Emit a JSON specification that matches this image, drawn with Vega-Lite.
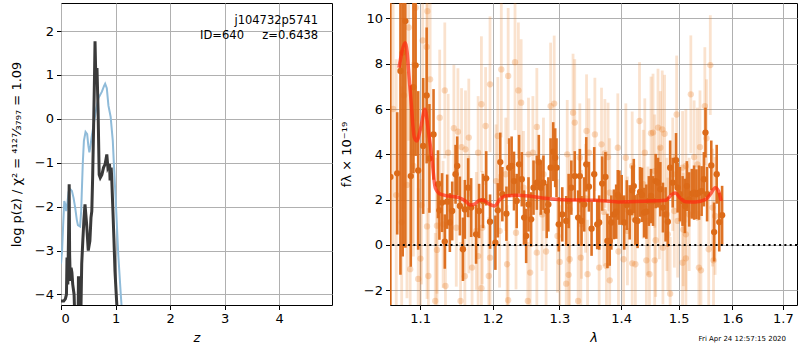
{
  "$schema": "https://vega.github.io/schema/vega-lite/v6.json",
  "padding": {"left": 9, "top": 2, "right": 0, "bottom": 0},
  "config": {
    "font": "DejaVu Sans",
    "view": {"stroke": "black", "strokeWidth": 1},
    "axis": {"domain": false, "grid": true, "gridColor": "#b0b0b0", "gridWidth": 1, "tickColor": "black", "tickSize": 4.5, "tickWidth": 1, "labelFontSize": 13, "labelColor": "black", "titleFontSize": 13, "titleFontWeight": "normal", "titleColor": "black", "labelPadding": 3, "labelFont": "DejaVu Sans", "titleFont": "DejaVu Sans"},
    "concat": {"spacing": 6}
  },
  "datasets": {
    "chi2": [
      {"z":0.0,"v":-3.3},{"z":0.02,"v":-3.0},{"z":0.04,"v":-2.4},{"z":0.06,"v":-1.87},{"z":0.08,"v":-1.95},{"z":0.095,"v":-2.1},{"z":0.115,"v":-1.95},{"z":0.14,"v":-1.66},{"z":0.17,"v":-1.6},{"z":0.2,"v":-1.64},{"z":0.23,"v":-1.8},{"z":0.26,"v":-2.02},{"z":0.29,"v":-2.3},{"z":0.31,"v":-2.42},{"z":0.35,"v":-2.45},{"z":0.37,"v":-2.1},{"z":0.38,"v":-1.72},{"z":0.4,"v":-1.0},{"z":0.42,"v":-0.5},{"z":0.45,"v":-0.3},{"z":0.48,"v":-0.35},{"z":0.5,"v":-0.6},{"z":0.52,"v":-0.76},{"z":0.54,"v":-0.62},{"z":0.56,"v":-0.43},{"z":0.6,"v":-0.12},{"z":0.65,"v":0.25},{"z":0.69,"v":0.48},{"z":0.75,"v":0.62},{"z":0.79,"v":0.75},{"z":0.81,"v":0.8},{"z":0.84,"v":0.7},{"z":0.87,"v":0.3},{"z":0.91,"v":0.05},{"z":0.95,"v":-0.5},{"z":0.97,"v":-1.03},{"z":1.01,"v":-2.02},{"z":1.05,"v":-3.09},{"z":1.1,"v":-4.07},{"z":1.13,"v":-4.6}
    ],
    "pz": [
      {"z":0.0,"v":-4.15},{"z":0.05,"v":-4.15},{"z":0.08,"v":-4.1},{"z":0.1,"v":-4.0},{"z":0.11,"v":-3.16},{"z":0.125,"v":-3.77},{"z":0.14,"v":-2.5},{"z":0.15,"v":-1.49},{"z":0.158,"v":-3.08},{"z":0.17,"v":-3.69},{"z":0.185,"v":-3.39},{"z":0.2,"v":-3.5},{"z":0.215,"v":-3.77},{"z":0.24,"v":-4.0},{"z":0.25,"v":-4.4},{"z":0.3,"v":-4.4},{"z":0.315,"v":-4.4},{"z":0.32,"v":-3.62},{"z":0.35,"v":-3.62},{"z":0.355,"v":-4.4},{"z":0.365,"v":-4.4},{"z":0.38,"v":-3.3},{"z":0.4,"v":-2.78},{"z":0.42,"v":-2.3},{"z":0.44,"v":-1.95},{"z":0.47,"v":-2.4},{"z":0.5,"v":-3.0},{"z":0.53,"v":-2.78},{"z":0.55,"v":-2.25},{"z":0.565,"v":-2.1},{"z":0.58,"v":-1.35},{"z":0.6,"v":-0.05},{"z":0.615,"v":1.0},{"z":0.624,"v":1.77},{"z":0.64,"v":0.86},{"z":0.66,"v":1.16},{"z":0.68,"v":0.2},{"z":0.7,"v":-1.27},{"z":0.72,"v":-1.34},{"z":0.75,"v":-1.27},{"z":0.78,"v":-1.11},{"z":0.81,"v":-1.03},{"z":0.84,"v":-0.81},{"z":0.86,"v":-1.11},{"z":0.89,"v":-1.03},{"z":0.9,"v":-1.4},{"z":0.92,"v":-1.11},{"z":0.93,"v":-1.34},{"z":0.95,"v":-2.02},{"z":0.97,"v":-2.71},{"z":0.99,"v":-3.47},{"z":1.02,"v":-4.15},{"z":1.04,"v":-4.6}
    ],
    "light": [
      {"l":1.065,"f":6.0,"e":6},{"l":1.069,"f":2.2,"e":6},{"l":1.076,"f":1.0,"e":6},{"l":1.079,"f":6.6,"e":5},{"l":1.085,"f":9.6,"e":5},{"l":1.0975,"f":-1.5,"e":4},
      {"l":1.0941,"f":10.47,"e":5},{"l":1.1097,"f":10.32,"e":4.5},{"l":1.1035,"f":9.03,"e":4},{"l":1.1087,"f":8.74,"e":4},{"l":1.1133,"f":7.31,"e":3.5},{"l":1.1331,"f":6.82,"e":3},{"l":1.1262,"f":5.62,"e":3},{"l":1.1455,"f":5.15,"e":2.8},{"l":1.1511,"f":5.0,"e":2.8},{"l":1.1561,"f":4.32,"e":2.6},{"l":1.1662,"f":4.74,"e":2.6},{"l":1.1616,"f":4.22,"e":2.6},{"l":1.1377,"f":4.07,"e":2.6},{"l":1.0903,"f":4.07,"e":4},{"l":1.0912,"f":3.49,"e":4},{"l":1.0828,"f":2.65,"e":5},{"l":1.1018,"f":1.76,"e":3.5},{"l":1.1092,"f":0.82,"e":3.2},{"l":1.1225,"f":0.85,"e":3},{"l":1.1308,"f":0.91,"e":2.8},{"l":1.1488,"f":0.76,"e":2.6},{"l":1.1225,"f":-0.22,"e":3},{"l":1.1005,"f":-0.6,"e":3.5},{"l":1.087,"f":-1.07,"e":4},{"l":1.111,"f":-1.37,"e":3},{"l":1.134,"f":-1.81,"e":2.8},{"l":1.1607,"f":-1.38,"e":2.6},{"l":1.1708,"f":-1.0,"e":2.6},{"l":1.1768,"f":0.62,"e":2.6},{"l":1.1662,"f":1.35,"e":2.6},{"l":1.1547,"f":-2.47,"e":2.6},{"l":1.1202,"f":-2.47,"e":3},
      {"l":1.1793,"f":4.07,"e":2.5},{"l":1.1963,"f":7.09,"e":3},{"l":1.184,"f":6.21,"e":3},{"l":1.19,"f":5.25,"e":2.6},{"l":1.2126,"f":7.75,"e":3},{"l":1.2226,"f":7.46,"e":3},{"l":1.2327,"f":8.07,"e":3},{"l":1.2377,"f":6.82,"e":3},{"l":1.2418,"f":6.28,"e":2.8},{"l":1.2865,"f":6.13,"e":2.8},{"l":1.292,"f":6.24,"e":3},{"l":1.2654,"f":5.21,"e":2.6},{"l":1.2075,"f":4.81,"e":2.6},{"l":1.2528,"f":4.0,"e":2.5},{"l":1.2594,"f":4.07,"e":2.5},{"l":1.2191,"f":3.12,"e":2.5},{"l":1.205,"f":2.82,"e":2.5},{"l":1.2453,"f":2.53,"e":2.5},{"l":1.2755,"f":3.12,"e":2.5},{"l":1.1853,"f":0.76,"e":2.5},{"l":1.1963,"f":-0.56,"e":2.5},{"l":1.1793,"f":-0.49,"e":2.5},{"l":1.1945,"f":-1.37,"e":2.6},{"l":1.2211,"f":-0.85,"e":2.6},{"l":1.2553,"f":-1.22,"e":2.6},{"l":1.2654,"f":-0.34,"e":2.5},{"l":1.2795,"f":-0.29,"e":2.5},{"l":1.3006,"f":-0.75,"e":2.5},{"l":1.184,"f":-1.91,"e":2.6},{"l":1.2226,"f":-2.44,"e":2.6},{"l":1.2518,"f":-2.47,"e":2.6},{"l":1.2101,"f":0.62,"e":2.5},{"l":1.2342,"f":0.54,"e":2.5},{"l":1.2735,"f":1.35,"e":2.5},{"l":1.2971,"f":0.4,"e":2.5},
      {"l":1.3216,"f":5.84,"e":2.6},{"l":1.3243,"f":5.4,"e":2.8},{"l":1.3432,"f":5.03,"e":2.5},{"l":1.3567,"f":4.88,"e":2.5},{"l":1.3675,"f":4.44,"e":2.5},{"l":1.373,"f":4.04,"e":2.4},{"l":1.3783,"f":3.88,"e":2.4},{"l":1.3945,"f":4.29,"e":2.4},{"l":1.408,"f":3.85,"e":2.4},{"l":1.4188,"f":3.49,"e":2.4},{"l":1.4313,"f":5.47,"e":2.6},{"l":1.4404,"f":4.07,"e":2.4},{"l":1.4512,"f":4.93,"e":2.5},{"l":1.3124,"f":4.0,"e":2.4},{"l":1.3324,"f":3.85,"e":2.4},{"l":1.347,"f":4.07,"e":2.4},{"l":1.3351,"f":0.91,"e":2.4},{"l":1.3162,"f":1.57,"e":2.4},{"l":1.3416,"f":2.06,"e":2.4},{"l":1.3713,"f":1.46,"e":2.4},{"l":1.381,"f":2.31,"e":2.4},{"l":1.4107,"f":0.62,"e":2.4},{"l":1.4377,"f":2.68,"e":2.4},{"l":1.4458,"f":1.06,"e":2.4},{"l":1.334,"f":-0.56,"e":2.4},{"l":1.3162,"f":-0.63,"e":2.4},{"l":1.3146,"f":-1.32,"e":2.4},{"l":1.3108,"f":-1.71,"e":2.4},{"l":1.3448,"f":-1.29,"e":2.4},{"l":1.3637,"f":-1.0,"e":2.4},{"l":1.3756,"f":-0.93,"e":2.4},{"l":1.3956,"f":-0.29,"e":2.4},{"l":1.4042,"f":-0.63,"e":2.4},{"l":1.4188,"f":-0.81,"e":2.4},{"l":1.4242,"f":-0.85,"e":2.4},{"l":1.4431,"f":-0.68,"e":2.4},{"l":1.381,"f":-1.56,"e":2.4},{"l":1.3297,"f":-2.47,"e":2.4},{"l":1.4485,"f":-1.29,"e":2.4},
      {"l":1.5582,"f":7.94,"e":2.2},{"l":1.5222,"f":6.65,"e":2.6},{"l":1.548,"f":6.13,"e":2.6},{"l":1.4965,"f":5.76,"e":2.6},{"l":1.4634,"f":5.18,"e":2.6},{"l":1.4709,"f":5.1,"e":2.6},{"l":1.475,"f":4.91,"e":2.6},{"l":1.4547,"f":4.96,"e":2.6},{"l":1.4675,"f":4.29,"e":2.5},{"l":1.551,"f":4.71,"e":2.6},{"l":1.539,"f":4.32,"e":2.5},{"l":1.5282,"f":3.88,"e":2.5},{"l":1.5342,"f":3.56,"e":2.5},{"l":1.5132,"f":3.49,"e":2.5},{"l":1.5072,"f":3.41,"e":2.5},{"l":1.4895,"f":3.12,"e":2.5},{"l":1.4576,"f":3.26,"e":2.5},{"l":1.4657,"f":1.87,"e":2.5},{"l":1.4924,"f":1.5,"e":2.5},{"l":1.479,"f":1.35,"e":2.5},{"l":1.5192,"f":1.35,"e":2.5},{"l":1.4983,"f":1.06,"e":2.5},{"l":1.5084,"f":0.68,"e":2.5},{"l":1.5132,"f":0.47,"e":2.5},{"l":1.5624,"f":1.65,"e":2.6},{"l":1.5672,"f":1.28,"e":2.6},{"l":1.4593,"f":0.21,"e":2.5},{"l":1.4808,"f":0.47,"e":2.5},{"l":1.4721,"f":-0.12,"e":2.5},{"l":1.5552,"f":-0.19,"e":2.6},{"l":1.5642,"f":-0.68,"e":2.6},{"l":1.5132,"f":-0.59,"e":2.5},{"l":1.5072,"f":-0.78,"e":2.5},{"l":1.537,"f":-1.0,"e":2.5},{"l":1.5408,"f":-1.12,"e":2.5},{"l":1.4576,"f":-0.68,"e":2.5},{"l":1.4849,"f":-2.15,"e":2.5}
    ],
    "dark": [
      {"l":1.0615,"f":3.0,"e":9},{"l":1.0702,"f":3.16,"e":2.7},{"l":1.0744,"f":7.68,"e":9},{"l":1.0773,"f":8.49,"e":9},{"l":1.0807,"f":9.88,"e":10},{"l":1.0878,"f":3.04,"e":4},{"l":1.0912,"f":6.97,"e":3.8},{"l":1.0941,"f":7.93,"e":4},{"l":1.0975,"f":3.29,"e":3.5},{"l":1.1041,"f":4.37,"e":3},{"l":1.1087,"f":6.6,"e":3},{"l":1.1124,"f":3.82,"e":2.4},{"l":1.1179,"f":4.88,"e":2},{"l":1.1239,"f":2.68,"e":1.5},{"l":1.1258,"f":1.53,"e":1.3},{"l":1.1294,"f":1.87,"e":1.3},{"l":1.1331,"f":0.15,"e":1.2},{"l":1.1363,"f":1.91,"e":1.2},{"l":1.14,"f":0.99,"e":1.3},{"l":1.1432,"f":1.5,"e":1.3},{"l":1.1478,"f":3.12,"e":1.3},{"l":1.1501,"f":3.49,"e":1.3},{"l":1.1538,"f":1.72,"e":1.3},{"l":1.158,"f":-0.19,"e":1.4},{"l":1.1607,"f":1.57,"e":1.3},{"l":1.1653,"f":2.53,"e":1.3},{"l":1.1695,"f":1.65,"e":1.3},{"l":1.1764,"f":0.47,"e":1.3},
      {"l":1.1807,"f":1.5,"e":1.2},{"l":1.1862,"f":1.94,"e":1.2},{"l":1.1908,"f":2.94,"e":1.2},{"l":1.1963,"f":1.03,"e":1.2},{"l":1.204,"f":0.1,"e":1.2},{"l":1.2075,"f":1.53,"e":1.2},{"l":1.2111,"f":3.66,"e":1.3},{"l":1.2141,"f":2.24,"e":1.2},{"l":1.2201,"f":1.38,"e":1.2},{"l":1.2241,"f":3.41,"e":1.3},{"l":1.2277,"f":3.49,"e":1.3},{"l":1.2312,"f":2.82,"e":1.3},{"l":1.2352,"f":1.94,"e":1.2},{"l":1.2387,"f":3.56,"e":1.3},{"l":1.2428,"f":2.9,"e":1.2},{"l":1.2463,"f":1.21,"e":1.2},{"l":1.2493,"f":0.4,"e":1.2},{"l":1.2528,"f":1.79,"e":1.2},{"l":1.2568,"f":1.13,"e":1.2},{"l":1.2604,"f":2.53,"e":1.2},{"l":1.2654,"f":2.75,"e":1.2},{"l":1.2684,"f":3.66,"e":1.2},{"l":1.2714,"f":2.53,"e":1.2},{"l":1.2755,"f":2.75,"e":1.2},{"l":1.2805,"f":1.5,"e":1.2},{"l":1.283,"f":1.79,"e":1.2},{"l":1.2865,"f":3.41,"e":1.3},{"l":1.2905,"f":4.12,"e":1.3},{"l":1.2936,"f":3.85,"e":1.3},{"l":1.2956,"f":3.41,"e":1.3},{"l":1.2991,"f":0.91,"e":1.2},{"l":1.3046,"f":1.35,"e":1.2},
      {"l":1.3108,"f":1.06,"e":1.1},{"l":1.3146,"f":1.94,"e":1.2},{"l":1.3189,"f":2.53,"e":1.2},{"l":1.3243,"f":3.04,"e":1.1},{"l":1.3297,"f":1.21,"e":1.2},{"l":1.3324,"f":3.04,"e":1.2},{"l":1.3351,"f":1.06,"e":1.1},{"l":1.3394,"f":1.79,"e":1.2},{"l":1.3427,"f":3.56,"e":1.2},{"l":1.347,"f":2.57,"e":1.1},{"l":1.3513,"f":0.72,"e":1.2},{"l":1.3556,"f":3.12,"e":1.2},{"l":1.3605,"f":0.91,"e":1.1},{"l":1.3637,"f":0.99,"e":1.2},{"l":1.3686,"f":2.71,"e":1.2},{"l":1.374,"f":3.0,"e":1.1},{"l":1.3772,"f":0.18,"e":1.2},{"l":1.381,"f":0.18,"e":1.1},{"l":1.3837,"f":0.99,"e":1.2},{"l":1.388,"f":1.35,"e":1.1},{"l":1.3918,"f":1.47,"e":1.2},{"l":1.3945,"f":2.21,"e":1.1},{"l":1.3972,"f":2.09,"e":1.2},{"l":1.401,"f":1.99,"e":1.1},{"l":1.4053,"f":0.99,"e":1.2},{"l":1.4096,"f":1.76,"e":1.1},{"l":1.4145,"f":1.44,"e":1.2},{"l":1.4188,"f":2.41,"e":1.1},{"l":1.4215,"f":2.6,"e":1.2},{"l":1.4242,"f":1.1,"e":1.1},{"l":1.428,"f":1.06,"e":1.2},{"l":1.4323,"f":2.34,"e":1.1},{"l":1.4355,"f":2.21,"e":1.2},{"l":1.4393,"f":1.43,"e":1.1},{"l":1.4431,"f":1.47,"e":1.2},{"l":1.4474,"f":1.94,"e":1.1},{"l":1.4512,"f":2.16,"e":1.2},
      {"l":1.4547,"f":1.94,"e":1.1},{"l":1.4593,"f":2.82,"e":1.2},{"l":1.4634,"f":2.75,"e":1.1},{"l":1.4675,"f":2.46,"e":1.2},{"l":1.4721,"f":1.65,"e":1.1},{"l":1.4768,"f":1.35,"e":1.2},{"l":1.4808,"f":1.03,"e":1.1},{"l":1.4849,"f":3.41,"e":1.2},{"l":1.4895,"f":2.75,"e":1.1},{"l":1.4954,"f":3.74,"e":1.2},{"l":1.4983,"f":2.53,"e":1.1},{"l":1.5024,"f":2.24,"e":1.2},{"l":1.5072,"f":1.94,"e":1.1},{"l":1.5114,"f":1.72,"e":1.2},{"l":1.515,"f":2.6,"e":1.1},{"l":1.5192,"f":2.01,"e":1.2},{"l":1.524,"f":2.26,"e":1.1},{"l":1.5282,"f":2.31,"e":1.2},{"l":1.5324,"f":2.24,"e":1.1},{"l":1.5372,"f":2.31,"e":1.2},{"l":1.542,"f":2.38,"e":1.1},{"l":1.5462,"f":2.9,"e":1.2},{"l":1.5492,"f":4.96,"e":1.1},{"l":1.5522,"f":2.24,"e":1.2},{"l":1.56,"f":3.51,"e":1.1},{"l":1.5654,"f":0.57,"e":1.3},{"l":1.5702,"f":3.12,"e":1.3},{"l":1.575,"f":1.01,"e":1.3},{"l":1.5804,"f":1.31,"e":1.3}
    ],
    "model": [
      {"l":1.0725,"f":7.82},{"l":1.0808,"f":8.93},{"l":1.0871,"f":6.79},{"l":1.0925,"f":4.74},{"l":1.0954,"f":4.59},{"l":1.1009,"f":5.18},{"l":1.1064,"f":5.99},{"l":1.111,"f":5.03},{"l":1.1156,"f":3.85},{"l":1.1202,"f":2.53},{"l":1.1271,"f":2.24},{"l":1.1385,"f":2.16},{"l":1.1523,"f":2.09},{"l":1.1615,"f":1.94},{"l":1.1683,"f":1.76},{"l":1.1752,"f":1.82},{"l":1.1821,"f":1.99},{"l":1.189,"f":1.94},{"l":1.1959,"f":1.79},{"l":1.203,"f":1.72},{"l":1.2106,"f":2.01},{"l":1.2181,"f":2.16},{"l":1.2332,"f":2.19},{"l":1.2533,"f":2.16},{"l":1.2784,"f":2.06},{"l":1.3038,"f":2.0},{"l":1.3578,"f":1.97},{"l":1.3957,"f":1.9},{"l":1.4419,"f":1.93},{"l":1.4767,"f":1.97},{"l":1.4884,"f":2.24},{"l":1.4942,"f":2.29},{"l":1.5031,"f":2.06},{"l":1.5123,"f":1.91},{"l":1.5307,"f":1.9},{"l":1.5491,"f":2.0},{"l":1.5583,"f":2.24},{"l":1.5675,"f":2.53},{"l":1.5736,"f":2.38},{"l":1.5785,"f":1.94}
    ]
  },
  "hconcat": [
    {
      "width": 271,
      "height": 302,
      "layer": [
        {
          "data": {"name": "chi2"},
          "mark": {"type": "line", "clip": true, "color": "#8fbbd9", "strokeWidth": 2},
          "encoding": {
            "x": {"field": "z", "type": "quantitative", "title": "z", "scale": {"domain": [0, 4.97], "nice": false, "zero": false}, "axis": {"values": [0, 1, 2, 3, 4], "titleFontStyle": "italic", "titlePadding": 6}},
            "y": {"field": "v", "type": "quantitative", "title": "log p(z) / χ² = ⁴¹²⁷⁄₃₇₉₇ = 1.09", "scale": {"domain": [-4.24, 2.64], "nice": false, "zero": false}, "axis": {"values": [-4, -3, -2, -1, 0, 1, 2], "titlePadding": 11}}
          }
        },
        {
          "data": {"name": "pz"},
          "mark": {"type": "line", "clip": true, "color": "#3a3a3a", "strokeWidth": 3},
          "encoding": {
            "x": {"field": "z", "type": "quantitative", "title": "z"},
            "y": {"field": "v", "type": "quantitative", "title": "log p(z) / χ² = ⁴¹²⁷⁄₃₇₉₇ = 1.09"}
          }
        },
        {
          "data": {"values": [{}]},
          "mark": {"type": "text", "align": "right", "baseline": "middle", "fontSize": 11.5, "color": "black"},
          "encoding": {"x": {"datum": 4.716}, "y": {"datum": 2.23}, "text": {"value": "j104732p5741"}}
        },
        {
          "data": {"values": [{}]},
          "mark": {"type": "text", "align": "right", "baseline": "middle", "fontSize": 11.5, "color": "black"},
          "encoding": {"x": {"datum": 4.716}, "y": {"datum": 1.89}, "text": {"value": "ID=640\u00a0\u00a0\u00a0\u00a0\u00a0z=0.6438"}}
        }
      ]
    },
    {
      "width": 407,
      "height": 302,
      "title": {"text": "Fri Apr 24 12:57:15 2020", "orient": "bottom", "anchor": "end", "frame": "group", "fontSize": 7, "fontWeight": "normal", "color": "black", "dx": -11, "offset": -10},
      "layer": [
        {
          "data": {"name": "light"},
          "mark": {"type": "errorbar", "clip": true, "color": "#e8791f", "opacity": 0.22, "thickness": 2.8},
          "encoding": {
            "x": {"field": "l", "type": "quantitative", "title": "λ", "scale": {"type": "log", "domain": [1.061, 1.729], "nice": false}, "axis": {"values": [1.1, 1.2, 1.3, 1.4, 1.5, 1.6, 1.7], "format": ".1f", "titleFontStyle": "italic", "titlePadding": 6}},
            "y": {"field": "f", "type": "quantitative", "title": "fλ × 10⁻¹⁹", "scale": {"domain": [-2.65, 10.68], "nice": false, "zero": false}, "axis": {"values": [-2, 0, 2, 4, 6, 8, 10], "titlePadding": 10}},
            "yError": {"field": "e"}
          }
        },
        {
          "data": {"name": "light"},
          "mark": {"type": "circle", "clip": true, "color": "#e8791f", "opacity": 0.28, "size": 40},
          "encoding": {
            "x": {"field": "l", "type": "quantitative", "title": "λ"},
            "y": {"field": "f", "type": "quantitative", "title": "fλ × 10⁻¹⁹"}
          }
        },
        {
          "data": {"name": "dark"},
          "mark": {"type": "errorbar", "clip": true, "color": "#dc6a18", "opacity": 0.95, "thickness": 2.6},
          "encoding": {
            "x": {"field": "l", "type": "quantitative", "title": "λ"},
            "y": {"field": "f", "type": "quantitative", "title": "fλ × 10⁻¹⁹"},
            "yError": {"field": "e"}
          }
        },
        {
          "data": {"name": "dark"},
          "mark": {"type": "circle", "clip": true, "color": "#dc6a18", "opacity": 1, "size": 40},
          "encoding": {
            "x": {"field": "l", "type": "quantitative", "title": "λ"},
            "y": {"field": "f", "type": "quantitative", "title": "fλ × 10⁻¹⁹"}
          }
        },
        {
          "data": {"name": "model"},
          "mark": {"type": "line", "clip": true, "color": "#ff2a10", "opacity": 0.7, "strokeWidth": 3.5, "interpolate": "monotone"},
          "encoding": {
            "x": {"field": "l", "type": "quantitative", "title": "λ"},
            "y": {"field": "f", "type": "quantitative", "title": "fλ × 10⁻¹⁹"}
          }
        },
        {
          "data": {"values": [{}]},
          "mark": {"type": "rule", "color": "black", "strokeWidth": 2, "strokeDash": [2, 3.3]},
          "encoding": {"y": {"datum": 0}}
        }
      ]
    }
  ]
}
